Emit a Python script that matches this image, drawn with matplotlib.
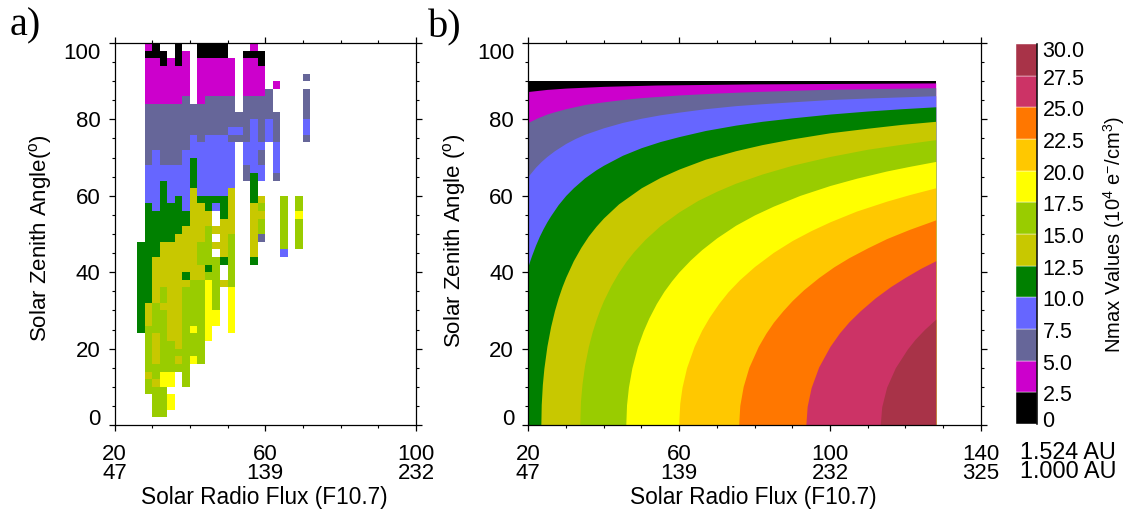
import numpy as np
import matplotlib
matplotlib.use('Agg')
import matplotlib.pyplot as plt
from matplotlib.colors import ListedColormap, BoundaryNorm
from matplotlib.ticker import MultipleLocator

plt.rcParams['font.family'] = ['Liberation Sans', 'DejaVu Sans']
plt.rcParams['mathtext.default'] = 'regular'

# colour levels of the Nmax scale
levels = [0, 2.5, 5, 7.5, 10, 12.5, 15, 17.5, 20, 22.5, 25, 27.5, 30]
level_labels = ['0', '2.5', '5.0', '7.5', '10.0', '12.5', '15.0', '17.5', '20.0', '22.5', '25.0', '27.5', '30.0']
colors = ['#000000', '#CC00CC', '#666699', '#6666FF', '#008000', '#C8C800',
          '#99CC00', '#FFFF00', '#FFC800', '#FF7700', '#CC3366', '#A83348']

# panel a, bins of 2 in flux and 2 in angle
flux_bins = np.arange(26, 74, 2)
zenith_bins = np.arange(2, 102, 2)
# k black, m magenta, s slate, b blue, g green, o olive, l lime, y yellow
# first row is 2-4 deg, last one 98-100 deg, columns from flux 26 to 70
cells = [
    '..ll',
    '..lly',
    '..lly',
    '.lll',
    '.loyy.l',
    '.olyy.l',
    '.llllll',
    '.lollolyl',
    '.lollllll',
    '.lollolll',
    '.loloollly',
    'gllloolyly..y',
    'golloolllyy.y',
    'golloolllyy.y',
    'golooolllyl.y',
    'ggoloolllyl.y',
    'ggoloolllyl.y',
    'ggooooollylol',
    'ggoooogooll.l',
    'ggooooooogl.l',
    'ggoooooolllgl..g',
    'gggoooooll.ol..o...b',
    'gggooooollool..o...l.l',
    '.ggggooool.ol..os..l.l',
    '.gggggooolooo..ol..l.l',
    '.ggggggooo.oo..ol..l.l',
    '.ggggggooo.go..oo..l.y',
    '.gbgggboogbgo..ol..l.l',
    '.bbgbgboggggo..go..l.l',
    '.bbgbbbobbbbo..g',
    '.bbgbbbgbbbbb..g',
    '.bbbbbbgbbbbb.sgb.s',
    '.bbbbbbgbbbbb.sbb.b',
    '.sbsssbgbbbbb.bbs.b',
    '.sbsssbbbbbbb.bbs.b',
    '.ssssssbbbbbb.bbb.b',
    '.ssssssbsbbbsssbsbs...s',
    '.sssssssssssbbsbsbs...b',
    '.ssssssssssssssbsbs...b',
    '.ssssssssssssssssss...s',
    '.ssssssssssss.ssss....s',
    '.mmmmms.mssss.ssss....s',
    '.mmmmmm.mmmmm.mmms....s',
    '.mmmmmm.mmmmm.mmm.m',
    '.mmmmmm.mmmmm.mmm.....s',
    '.mmmmmm.mmmmm.mmm',
    '.mmkmkm.mmmmm.mmk',
    '.kkk.km.kkkk..kkk',
    '.mk..k..kkkk...m',
]
cell_codes = 'kmsbgoly'

# panel b, iso-Nmax lines read as (flux, zenith angle)
line_2_5_flux = [20, 25, 30, 40, 54, 80, 128]
line_2_5_zen = [87.3, 87.85, 88.2, 88.65, 89.0, 89.3, 89.55]
line_5_flux = [20, 22.5, 25, 27, 30, 35, 40, 45, 50, 60, 70, 80, 100, 128]
line_5_zen = [79.2, 80.4, 81.4, 82.0, 82.8, 83.9, 84.6, 85.2, 85.7, 86.4, 86.9, 87.3, 87.9, 88.3]
line_7_5_flux = [20, 21, 22, 23.5, 25, 27, 30, 32.5, 35, 40, 45, 50, 55, 60, 67, 75, 82, 90, 100, 110, 128]
line_7_5_zen = [65.1, 66.3, 67.5, 69.0, 70.3, 71.8, 73.7, 75.0, 76.1, 77.8, 79.2, 80.3, 81.2, 81.9, 82.8, 83.6,
                84.1, 84.6, 85.2, 85.6, 86.2]
line_10_flux = [20, 20.5, 21, 22, 23, 24, 25, 26, 28, 30, 32, 35, 38, 40, 45, 50, 55, 60, 67, 75, 82, 90, 100,
                110, 119, 128]
line_10_zen = [41.5, 43.1, 44.5, 47.1, 49.4, 51.4, 53.2, 54.8, 57.7, 60.1, 62.1, 64.7, 66.8, 68.0, 70.6, 72.6,
               74.2, 75.5, 77.1, 78.5, 79.5, 80.4, 81.4, 82.2, 82.8, 83.3]
line_12_5_flux = [23.4, 23.5, 23.8, 24.2, 25, 26, 27, 28, 29, 30, 32, 34, 36, 38, 40, 44, 50, 55, 60, 67, 75, 82,
                  90, 100, 110, 119, 128]
line_12_5_zen = [0, 5.3, 10.6, 14.8, 20.6, 25.8, 29.9, 33.3, 36.2, 38.7, 43.0, 46.5, 49.5, 52.0, 54.2, 57.9, 62.1,
                 64.8, 67.0, 69.6, 71.8, 73.4, 74.9, 76.5, 77.7, 78.7, 79.5]
line_15_flux = [33.7, 33.9, 34.3, 35, 36, 37, 38, 39, 40, 42, 44, 46, 48, 51, 55, 60, 65, 70, 75, 82, 90, 100,
                110, 119, 128]
line_15_zen = [0, 6.2, 10.7, 15.7, 20.6, 24.4, 27.5, 30.2, 32.6, 36.6, 40.0, 42.9, 45.4, 48.6, 52.2, 55.8, 58.8,
               61.2, 63.3, 65.7, 68.0, 70.3, 72.2, 73.5, 74.7]
line_17_5_flux = [45.9, 46.1, 46.6, 47.5, 49, 50.5, 52, 54, 56, 58, 60, 63, 66, 70, 75, 80, 85, 92, 100, 107, 115,
                  121, 128]
line_17_5_zen = [0, 5.3, 9.9, 14.9, 20.5, 24.6, 28.0, 31.8, 35.0, 37.7, 40.1, 43.2, 45.9, 49.0, 52.3, 55.0, 57.3,
                 60.1, 62.7, 64.6, 66.5, 67.7, 69.0]
line_20_flux = [59.9, 60.2, 60.8, 62, 64, 66, 68, 70.5, 73, 76, 80, 85, 90, 95, 100, 107, 115, 121, 128]
line_20_zen = [0, 5.7, 9.9, 15.0, 20.6, 24.8, 28.2, 31.8, 34.9, 38.0, 41.5, 45.2, 48.3, 50.9, 53.2, 56.0, 58.6,
               60.3, 62.1]
line_22_5_flux = [75.8, 76.1, 77, 78.5, 81, 83, 85, 87.5, 90, 93, 97, 101, 105, 110, 115, 121, 128]
line_22_5_zen = [0, 5.1, 10.1, 15.1, 20.6, 24.0, 26.9, 29.9, 32.6, 35.4, 38.6, 41.4, 43.8, 46.4, 48.8, 51.2, 53.7]
line_25_flux = [93.6, 93.95, 95, 97, 100, 102.5, 105, 108, 112, 116, 120, 124, 128]
line_25_zen = [0, 4.9, 9.8, 15.2, 20.6, 24.1, 27.0, 29.9, 33.3, 36.2, 38.7, 41.0, 43.0]
line_27_5_flux = [113.3, 113.7, 115, 117.3, 120.5, 122.5, 125, 128]
line_27_5_zen = [0, 4.8, 9.9, 15.0, 19.9, 22.4, 25.0, 27.7]

flux_edge = [20, 128]
zenith_top = 90

# tick labels, Mars flux above Earth flux
xlabels_a = ['20\n47', '60\n139', '100\n232']
xlabels_b = ['20\n47', '60\n139', '100\n232', '140\n325']
yticks = [0, 20, 40, 60, 80, 100]

W, H = 1132, 520
tick_fs = 16
label_fs = 16


def axes_px(left, right, top, bottom):
    return [left/W, 1-bottom/H, (right-left)/W, (bottom-top)/H]


def style(ax, xmax, xticks, xlabels, ylab, ylab_x, ylab_y):
    ax.set_xlim(20, xmax)
    ax.set_ylim(0, 100)
    ax.xaxis.set_minor_locator(MultipleLocator(10))
    ax.yaxis.set_minor_locator(MultipleLocator(5))
    ax.tick_params(which='major', direction='out', length=4, width=0.9,
                   top=True, right=True, labelsize=tick_fs)
    ax.tick_params(which='minor', direction='out', length=1.9, width=0.8,
                   top=True, right=True)
    ax.tick_params(axis='x', which='major', pad=10)
    ax.tick_params(axis='y', which='major', pad=6)
    for s in ax.spines.values():
        s.set_linewidth(0.9)
    ax.set_xticks(xticks, xlabels)
    ax.set_yticks(yticks, [str(v) for v in yticks])
    for t in ax.get_xticklabels():
        t.set_linespacing(0.82)
    # end labels are pulled inside the axis range
    ax.get_yticklabels()[0].set_va('baseline')
    ax.get_yticklabels()[-1].set_va('top')
    ax.set_ylabel(ylab, fontsize=label_fs, va='center')
    ax.yaxis.set_label_coords(ylab_x, ylab_y)
    ax.set_xlabel('Solar Radio Flux (F10.7)', fontsize=16.3, va='center')
    ax.xaxis.set_label_coords(0.4975, -0.191)


fig = plt.figure(figsize=(W/100, H/100), dpi=100)

# a) binned measurements
ax1 = fig.add_axes(axes_px(114.5, 416, 43, 425))
grid = np.full((len(zenith_bins)-1, len(flux_bins)-1), np.nan)
for i, row in enumerate(cells):
    for j, c in enumerate(row):
        if c != '.':
            grid[i, j] = cell_codes.index(c)
ax1.pcolormesh(flux_bins, zenith_bins, np.ma.masked_invalid(grid),
               cmap=ListedColormap(colors[:8]),
               norm=BoundaryNorm(np.arange(-0.5, 8.5), 8))
style(ax1, 100, [20, 60, 100], xlabels_a, 'Solar Zenith Angle($^{o}$)', -0.244, 0.49)

# b) modelled Nmax, painted from the lowest level up
ax2 = fig.add_axes(axes_px(528, 981, 43, 425))
ax2.fill_between(flux_edge, 0, zenith_top, color=colors[0], lw=0)
lines = [(line_2_5_flux, line_2_5_zen), (line_5_flux, line_5_zen),
         (line_7_5_flux, line_7_5_zen), (line_10_flux, line_10_zen),
         (line_12_5_flux, line_12_5_zen), (line_15_flux, line_15_zen),
         (line_17_5_flux, line_17_5_zen), (line_20_flux, line_20_zen),
         (line_22_5_flux, line_22_5_zen), (line_25_flux, line_25_zen),
         (line_27_5_flux, line_27_5_zen)]
for (fl, zen), col in zip(lines, colors[1:]):
    ax2.fill_between(fl, 0, zen, color=col, lw=0)
style(ax2, 140, [20, 60, 100, 140], xlabels_b, 'Solar Zenith Angle ($^{o}$)', -0.163, 0.482)

# colour scale
cax = fig.add_axes(axes_px(1016, 1037, 44, 424))
cax.bar(0, np.diff(levels), bottom=levels[:-1], width=1, color=colors,
        edgecolor='white', linewidth=0.3)
cax.set_xlim(-0.5, 0.5)
cax.set_ylim(0, 30)
cax.set_xticks([])
cax.yaxis.tick_right()
# the two end labels sit inside the bar
label_pos = [0.4] + [v - 0.08 for v in levels[1:-1]] + [29.57]
cax.set_yticks(label_pos, level_labels)
cax.tick_params(axis='y', length=0, labelsize=15.5, pad=4)
for k in ['left', 'top', 'bottom']:
    cax.spines[k].set_visible(False)
cax.spines['right'].set_linewidth(1.1)

fig.text(1114/W, 1-234.5/H, 'Nmax Values (10$^4$ e$^{-}$/cm$^3$)', rotation=90,
         ha='center', va='center', fontsize=14.5)
fig.text(1020/W, 1-462/H, '1.524 AU\n1.000 AU', ha='left', va='center',
         fontsize=16.8, linespacing=0.78)

fig.text(10/W, 1-26/H, 'a)', family='Liberation Serif', fontsize=29, ha='left', va='center')
fig.text(428/W, 1-28/H, 'b)', family='Liberation Serif', fontsize=29, ha='left', va='center')

fig.savefig('out.png', dpi=100)
